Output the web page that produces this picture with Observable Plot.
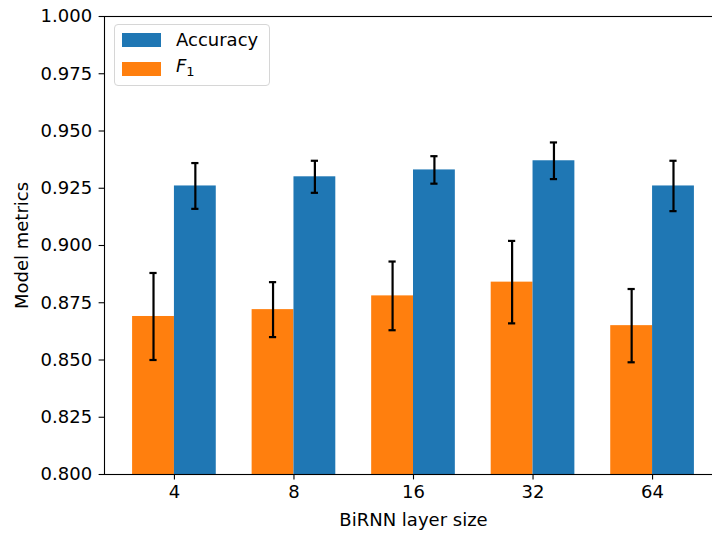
<!DOCTYPE html>
<html>
<head>
<meta charset="utf-8">
<script src="https://cdn.jsdelivr.net/npm/d3@7"></script>
<script src="https://cdn.jsdelivr.net/npm/@observablehq/plot@0.6"></script>
<style>
  html, body { margin: 0; padding: 0; background: white; }
  #chart { position: relative; width: 712px; height: 533px; font-family: "DejaVu Sans", sans-serif; }
  #chart svg { display: block; }
  .legend {
    position: absolute; left: 114px; top: 24px; width: 156px; height: 62px;
    border: 1px solid #d6d6d6; border-radius: 4px; background: rgba(255,255,255,0.8);
    font-family: "DejaVu Sans", sans-serif; font-size: 18px; color: black; box-sizing: border-box;
  }
  .legend .item { position: absolute; left: 7px; height: 14px; display: flex; align-items: center; }
  .legend .swatch { width: 39px; height: 14px; margin-right: 15px; flex: none; }
  .legend .label { line-height: 14px; white-space: nowrap; }
</style>
</head>
<body>
<div id="chart"></div>
<script>
// Layer sizes tested for the BiRNN
const sizes = ["4", "8", "16", "32", "64"];

// Mean accuracy and its standard deviation per layer size
const accuracy    = [0.926, 0.930, 0.933, 0.937, 0.926];
const accuracyErr = [0.010, 0.007, 0.006, 0.008, 0.011];

// Mean F1 score and its standard deviation per layer size
const f1    = [0.869, 0.872, 0.878, 0.884, 0.865];
const f1Err = [0.019, 0.012, 0.015, 0.018, 0.016];

// Y axis ticks
const yTicks = [0.800, 0.825, 0.850, 0.875, 0.900, 0.925, 0.950, 0.975, 1.000];

const barWidth = 0.35;
const colors = { Accuracy: "#1f77b4", F1: "#ff7f0e" };

const rows = [];
sizes.forEach((s, i) => {
  rows.push({ series: "F1", i, x1: i - barWidth, x2: i, xc: i - barWidth / 2, value: f1[i], err: f1Err[i] });
  rows.push({ series: "Accuracy", i, x1: i, x2: i + barWidth, xc: i + barWidth / 2, value: accuracy[i], err: accuracyErr[i] });
});

const width = 712, height = 533;
const marginLeft = 104, marginRight = -10, marginTop = 16, marginBottom = 59;
const xDomain = [-0.585, 4.585];
const pxPerUnit = (width - marginLeft - marginRight) / (xDomain[1] - xDomain[0]);
const capHalf = 3.6 / pxPerUnit;

const chart = Plot.plot({
  width, height, marginLeft, marginRight, marginTop, marginBottom,
  style: { fontFamily: "DejaVu Sans, sans-serif", fontSize: "18px", color: "black", background: "white" },
  x: { type: "linear", domain: xDomain },
  y: { domain: [0.8, 1.0] },
  marks: [
    Plot.rectY(rows, { x1: "x1", x2: "x2", y1: 0.8, y2: "value", fill: d => colors[d.series], insetLeft: 0, insetRight: 0 }),
    Plot.ruleX(rows, { x: "xc", y1: d => d.value - d.err, y2: d => d.value + d.err, stroke: "black", strokeWidth: 2.2 }),
    Plot.ruleY(rows, { y: d => d.value + d.err, x1: d => d.xc - capHalf, x2: d => d.xc + capHalf, stroke: "black", strokeWidth: 2.2 }),
    Plot.ruleY(rows, { y: d => d.value - d.err, x1: d => d.xc - capHalf, x2: d => d.xc + capHalf, stroke: "black", strokeWidth: 2.2 }),
    Plot.axisX({
      ticks: sizes.map((_, i) => i), tickFormat: i => sizes[i],
      tickSize: 5.4, tickPadding: 5, strokeWidth: 1.1, fontSize: 18,
      label: "BiRNN layer size", labelAnchor: "center", labelArrow: "none", labelOffset: 51
    }),
    Plot.axisY({
      ticks: yTicks, tickFormat: d3.format(".3f"),
      tickSize: 5.4, tickPadding: 7, strokeWidth: 1.1, fontSize: 18,
      label: "Model metrics", labelAnchor: "center", labelArrow: "none", labelOffset: 89
    }),
    Plot.frame({ stroke: "black", strokeWidth: 1.1 })
  ]
});

const root = document.getElementById("chart");
root.appendChild(chart);

// Legend drawn inside the upper-left corner of the plot area
const legend = document.createElement("div");
legend.className = "legend";
legend.innerHTML = `
  <div class="item" style="top:7.7px"><div class="swatch" style="background:${colors.Accuracy}"></div><span class="label">Accuracy</span></div>
  <div class="item" style="top:36.7px"><div class="swatch" style="background:${colors.F1}"></div><span class="label"><i>F</i><sub style="font-size:13px;vertical-align:-4px">1</sub></span></div>
`;
root.appendChild(legend);
</script>
</body>
</html>
